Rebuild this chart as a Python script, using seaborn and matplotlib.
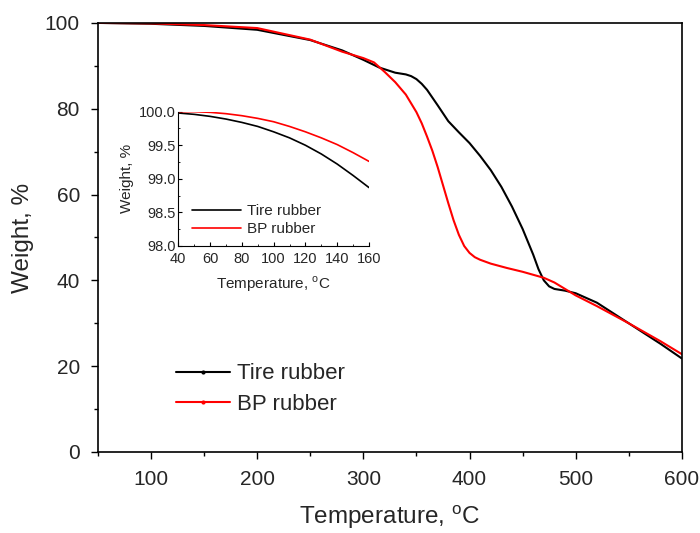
import numpy as np
import pandas as pd
import seaborn as sns
import matplotlib.pyplot as plt
from matplotlib.lines import Line2D
from matplotlib.ticker import MultipleLocator

# main TGA curves
tire_temp = [50, 100, 150, 200, 250, 280, 300, 315, 330, 340, 345, 350, 355, 360, 370, 380, 390,
             400, 410, 420, 430, 440, 450, 460, 465, 470, 475, 480, 490, 500, 520, 550, 580, 600]
tire_weight = [100, 99.8, 99.3, 98.4, 96.0, 93.6, 91.4, 89.6, 88.4, 88.0, 87.6, 86.9, 85.8, 84.4, 80.8,
               77.1, 74.5, 72.0, 69.0, 65.7, 61.8, 57.2, 52.0, 46.0, 42.6, 40.0, 38.6, 38.0, 37.6,
               37.0, 34.8, 30.0, 25.2, 21.8]
bp_temp = [50, 100, 150, 200, 250, 280, 300, 310, 320, 330, 340, 350, 355, 360, 365, 370, 375, 380,
           385, 390, 395, 400, 405, 410, 420, 435, 450, 460, 470, 480, 490, 500, 520, 550, 580, 600]
bp_weight = [100, 99.9, 99.5, 98.8, 96.1, 93.3, 91.8, 90.8, 88.6, 86.2, 83.3, 79.2, 76.6, 73.5,
             70.2, 66.4, 62.2, 58.0, 54.0, 50.6, 48.0, 46.4, 45.4, 44.8, 43.9, 42.9, 42.0, 41.3,
             40.6, 39.5, 38.0, 36.5, 34.0, 30.0, 25.8, 22.8]

# inset (40-160 C)
inset_temp = [40, 50, 60, 70, 80, 90, 100, 110, 120, 130, 140, 150, 160]
inset_tire = [99.98, 99.96, 99.93, 99.89, 99.84, 99.78, 99.70, 99.61, 99.50, 99.37, 99.22, 99.05, 98.87]
inset_bp = [100.0, 100.0, 99.99, 99.97, 99.94, 99.90, 99.85, 99.78, 99.70, 99.61, 99.51, 99.39, 99.26]

sns.set_style("ticks")
plt.rcParams['font.family'] = ['Liberation Sans', 'DejaVu Sans']

fig = plt.figure(figsize=(7, 5.33), dpi=100)
ax = fig.add_axes([0.14, 0.152, 0.834, 0.805])

df_main = pd.concat([
    pd.DataFrame({'T': tire_temp, 'W': tire_weight, 'sample': 'Tire rubber'}),
    pd.DataFrame({'T': bp_temp, 'W': bp_weight, 'sample': 'BP rubber'}),
])
palette = {'Tire rubber': 'black', 'BP rubber': '#ff0000'}
sns.lineplot(data=df_main, x='T', y='W', hue='sample', palette=palette, ax=ax,
             linewidth=1.5, legend=False, sort=False)

ax.set_xlim(50, 600)
ax.set_ylim(0, 100)
ax.xaxis.set_major_locator(MultipleLocator(100))
ax.xaxis.set_minor_locator(MultipleLocator(50))
ax.yaxis.set_major_locator(MultipleLocator(20))
ax.yaxis.set_minor_locator(MultipleLocator(10))
ax.tick_params(which='both', direction='out', top=False, right=False, labelsize=15, color='black')
ax.tick_params(which='major', length=5, width=1, pad=8)
ax.tick_params(which='minor', length=3, width=1)
for s in ax.spines.values():
    s.set_color('black')
    s.set_linewidth(1.2)
ax.set_xlabel('Temperature, $^{\\mathregular{o}}$C', fontsize=17.5, labelpad=10)
ax.set_ylabel('Weight, %', fontsize=17.5, labelpad=8)

handles = [Line2D([], [], color='black', lw=1.5, marker='.', markersize=4),
           Line2D([], [], color='#ff0000', lw=1.5, marker='.', markersize=4)]
ax.legend(handles, ['Tire rubber', 'BP rubber'], loc='lower left',
          bbox_to_anchor=(0.1, 0.04), frameon=False, fontsize=16,
          handlelength=2.4, numpoints=1, labelspacing=0.42, handletextpad=0.35)

# inset
ins = fig.add_axes([0.2547, 0.5385, 0.2724, 0.252])
df_in = pd.concat([
    pd.DataFrame({'T': inset_temp, 'W': inset_tire, 'sample': 'Tire rubber'}),
    pd.DataFrame({'T': inset_temp, 'W': inset_bp, 'sample': 'BP rubber'}),
])
sns.lineplot(data=df_in, x='T', y='W', hue='sample', palette=palette, ax=ins,
             linewidth=1.2, legend=False)
ins.set_xlim(40, 160)
ins.set_ylim(98.0, 100.0)
ins.xaxis.set_major_locator(MultipleLocator(20))
ins.xaxis.set_minor_locator(MultipleLocator(10))
ins.yaxis.set_major_locator(MultipleLocator(0.5))
ins.yaxis.set_minor_locator(MultipleLocator(0.25))
ins.yaxis.set_major_formatter(plt.FormatStrFormatter('%.1f'))
ins.tick_params(which='both', direction='in', labelsize=10.5, color='black')
ins.tick_params(axis='x', pad=4)
ins.tick_params(axis='y', pad=2)
ins.tick_params(which='major', length=3)
ins.tick_params(which='minor', length=1.5)
sns.despine(ax=ins)
ins.patch.set_alpha(0)
for s in ['left', 'bottom']:
    ins.spines[s].set_color('black')
ins.set_xlabel('Temperature, $^{\\mathregular{o}}$C', fontsize=11, labelpad=6)
ins.set_ylabel('Weight, %', fontsize=11, labelpad=3)
in_handles = [Line2D([], [], color='black', lw=1.2), Line2D([], [], color='#ff0000', lw=1.2)]
ins.legend(in_handles, ['Tire rubber', 'BP rubber'], loc='lower left',
           bbox_to_anchor=(0.0, -0.03), frameon=False, fontsize=11,
           handlelength=3.2, labelspacing=0.25, handletextpad=0.4)

fig.savefig('out.png', dpi=100)
